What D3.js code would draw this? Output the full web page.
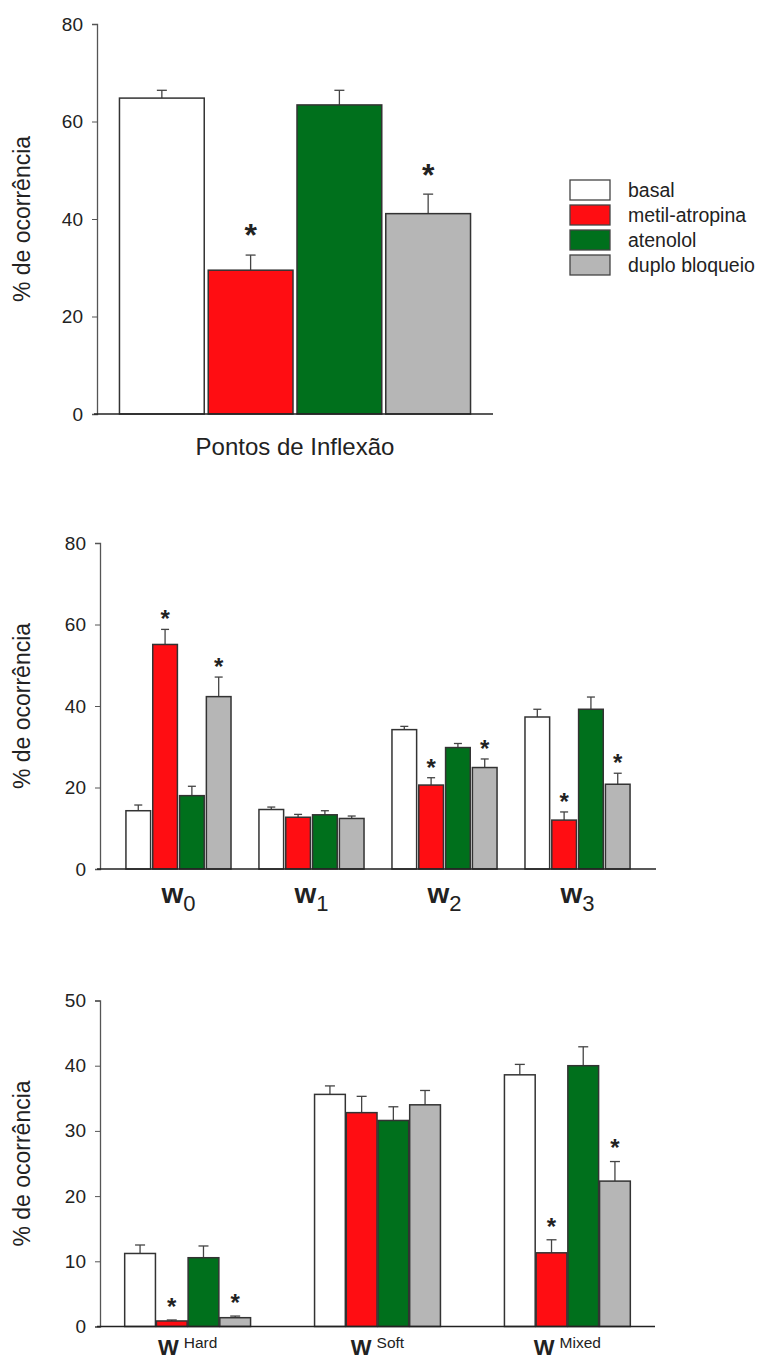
<!DOCTYPE html>
<html lang="pt">
<head>
<meta charset="utf-8">
<title>% de ocorrência</title>
<script src="https://cdn.jsdelivr.net/npm/d3@7/dist/d3.min.js"></script>
<style>
  body { margin: 0; background: #fff; }
  svg text { font-family: "Liberation Sans", Arial, sans-serif; fill: #222; }
</style>
</head>
<body>
<script>
// series (treatments)
var series = ["basal", "metil-atropina", "atenolol", "duplo bloqueio"];
var colors = ["#ffffff", "#ff0d12", "#00701c", "#b6b6b6"];

// panel A - inflection points
var catsA = ["Pontos de Inflexão"];
var meanA = [[64.8, 29.5, 63.4, 41.1]];
var errA  = [[1.6, 3.1, 3.0, 4.0]];
var sigA  = [[0, 1, 0, 1]];
var ticksA = [0, 20, 40, 60, 80];

// panel B - w0..w3
var catsB = ["0", "1", "2", "3"];
var meanB = [[14.3, 55.1, 18.0, 42.3],
             [14.6, 12.7, 13.3, 12.4],
             [34.2, 20.6, 29.8, 24.9],
             [37.3, 12.0, 39.2, 20.8]];
var errB  = [[1.4, 3.7, 2.3, 4.8],
             [0.6, 0.7, 1.0, 0.6],
             [0.8, 1.8, 1.0, 2.1],
             [1.9, 2.0, 3.0, 2.7]];
var sigB  = [[0, 1, 0, 1], [0, 0, 0, 0], [0, 1, 0, 1], [0, 1, 0, 1]];
var ticksB = [0, 20, 40, 60, 80];

// panel C - W hard / soft / mixed
var catsC = ["Hard", "Soft", "Mixed"];
var meanC = [[11.2, 0.85, 10.55, 1.35],
             [35.6, 32.8, 31.6, 34.0],
             [38.6, 11.3, 40.0, 22.3]];
var errC  = [[1.3, 0.15, 1.8, 0.25],
             [1.3, 2.5, 2.1, 2.2],
             [1.6, 2.0, 2.9, 3.0]];
var sigC  = [[0, 1, 0, 1], [0, 0, 0, 0], [0, 1, 0, 1]];
var ticksC = [0, 10, 20, 30, 40, 50];

var w = 767, h = 1360;
var svg = d3.select("body").append("svg")
  .attr("width", w).attr("height", h);

function panel(o) {
  var g = svg.append("g");
  var y = d3.scaleLinear().domain([0, o.ymax]).range([o.y0, o.y1]);
  var x0 = d3.scaleBand().domain(o.cats).range([o.xl, o.xr])
    .paddingInner(o.pi).paddingOuter(o.po);
  var x1 = d3.scaleBand().domain(series).range([0, x0.bandwidth()])
    .paddingInner(o.bi).paddingOuter(0);

  // y axis
  var ya = g.append("g").attr("transform", "translate(" + o.xl + ",0)")
    .call(d3.axisLeft(y).tickValues(o.ticks).tickSize(5).tickPadding(9));
  ya.select(".domain").attr("stroke", "#555").attr("stroke-width", 1.3);
  ya.selectAll(".tick line").attr("stroke", "#555");
  ya.selectAll(".tick text").style("font-size", "19px").attr("fill", "#222");

  // bars
  o.cats.forEach(function(c, ci) {
    var gg = g.append("g").attr("transform", "translate(" + x0(c) + ",0)");
    series.forEach(function(s, si) {
      var v = o.mean[ci][si], e = o.err[ci][si];
      var cx = x1(s) + x1.bandwidth() / 2;
      gg.append("line")
        .attr("x1", cx).attr("x2", cx)
        .attr("y1", y(v)).attr("y2", y(v + e))
        .attr("stroke", "#444").attr("stroke-width", 1.3);
      gg.append("line")
        .attr("x1", cx - o.cap).attr("x2", cx + o.cap)
        .attr("y1", y(v + e)).attr("y2", y(v + e))
        .attr("stroke", "#444").attr("stroke-width", 1.3);
      gg.append("rect")
        .attr("x", x1(s)).attr("width", x1.bandwidth())
        .attr("y", y(v)).attr("height", y(0) - y(v))
        .attr("fill", colors[si]).attr("stroke", "#333").attr("stroke-width", 1.5);
      if (o.sig[ci][si]) {
        gg.append("text")
          .attr("x", cx).attr("y", y(v + e) - o.starGap + o.starFs * 0.575)
          .attr("text-anchor", "middle")
          .style("font-size", o.starFs + "px").style("font-weight", "bold")
          .text("*");
      }
    });
  });

  // x axis line
  g.append("line")
    .attr("x1", o.xl - 3).attr("x2", o.xr)
    .attr("y1", y(0)).attr("y2", y(0))
    .attr("stroke", "#222").attr("stroke-width", 1.5);

  // y label
  g.append("text")
    .attr("transform", "translate(" + o.ylx + "," + ((o.y0 + o.y1) / 2) + ") rotate(-90)")
    .attr("text-anchor", "middle")
    .style("font-size", "23px")
    .text("% de ocorrência");

  return {g: g, x0: x0, y: y};
}

// panel A
var pA = panel({cats: catsA, mean: meanA, err: errA, sig: sigA, ticks: ticksA,
  ymax: 80, y0: 414, y1: 24, xl: 97, xr: 493, pi: 0, po: 0.064, bi: 0.045,
  cap: 5, starFs: 32, starGap: 27, ylx: 30});
pA.g.append("text")
  .attr("x", pA.x0(catsA[0]) + pA.x0.bandwidth() / 2).attr("y", 455)
  .attr("text-anchor", "middle").style("font-size", "24px")
  .text(catsA[0]);

// legend
var leg = svg.append("g").attr("transform", "translate(570,180)");
series.forEach(function(s, i) {
  leg.append("rect").attr("x", 0).attr("y", i * 25).attr("width", 40).attr("height", 20)
    .attr("fill", colors[i]).attr("stroke", "#444").attr("stroke-width", 1.3);
  leg.append("text").attr("x", 58).attr("y", i * 25 + 17)
    .style("font-size", "19.5px").text(s);
});

// panel B
var pB = panel({cats: catsB, mean: meanB, err: errB, sig: sigB, ticks: ticksB,
  ymax: 80, y0: 869, y1: 543, xl: 100, xr: 656, pi: 0.21, po: 0.195, bi: 0.08,
  cap: 4, starFs: 24, starGap: 16, ylx: 30});
catsB.forEach(function(c) {
  var t = pB.g.append("text")
    .attr("x", pB.x0(c) + pB.x0.bandwidth() / 2).attr("y", 903)
    .attr("text-anchor", "middle");
  t.append("tspan").style("font-size", "28px").style("font-weight", "bold").text("w");
  t.append("tspan").attr("dy", 8).style("font-size", "22px").text(c);
});

// panel C
var pC = panel({cats: catsC, mean: meanC, err: errC, sig: sigC, ticks: ticksC,
  ymax: 50, y0: 1326.5, y1: 1000.5, xl: 100, xr: 655, pi: 0.337, po: 0.13, bi: 0.03,
  cap: 5, starFs: 24, starGap: 19, ylx: 30});
catsC.forEach(function(c) {
  var t = pC.g.append("text")
    .attr("x", pC.x0(c) + pC.x0.bandwidth() / 2).attr("y", 1355)
    .attr("text-anchor", "middle");
  t.append("tspan").style("font-size", "22px").style("font-weight", "bold").text("W");
  t.append("tspan").attr("dx", 5).attr("dy", -7).style("font-size", "15.5px").text(c);
});
</script>
</body>
</html>
